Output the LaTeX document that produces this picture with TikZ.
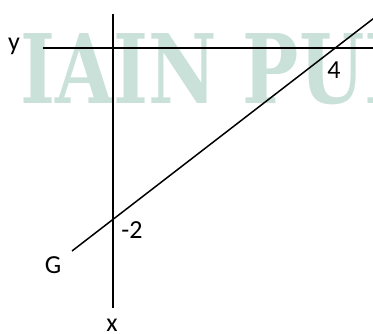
\documentclass[tikz,border=0pt]{standalone}
\usepackage{fontspec}
\setmainfont{Carlito}
\newfontfamily\wmfont{DejaVu Serif}
\definecolor{wmteal}{RGB}{202,225,217}
\begin{document}
\begin{tikzpicture}[x=1pt,y=-1pt,
  axis/.style={line width=1.5pt,black},
  lbl/.style={font=\fontsize{26}{26}\selectfont,inner sep=0pt,anchor=base}]
\useasboundingbox (0,0) rectangle (373,333);
\clip (0,0) rectangle (373,333);
% watermark
\node[anchor=base west,inner sep=0pt,text=wmteal,xscale=0.78,font=\wmfont\bfseries\fontsize{96}{96}\selectfont] (wm) at (20,103) {IAIN PUR};
% axes
\coordinate (ytop) at (113,14);
\coordinate (ybot) at (113,308);
\coordinate (xl) at (43,48);
\coordinate (xr) at (380,48);
\coordinate (gl) at (72,251);
\coordinate (gr) at (385,9.6);
\draw[axis] (ytop) -- (ybot);
\draw[axis] (xl) -- (xr);
\draw[axis] (gl) -- (gr);
% labels
\node[lbl] (ylab) at (14,50) {y};
\node[lbl] (xlab) at (112,331) {x};
\node[lbl] (four) at (334,78) {4};
\node[lbl] (mtwo) at (132,238) {-2};
\node[lbl] (glab) at (53,273) {G};
\end{tikzpicture}
\end{document}
